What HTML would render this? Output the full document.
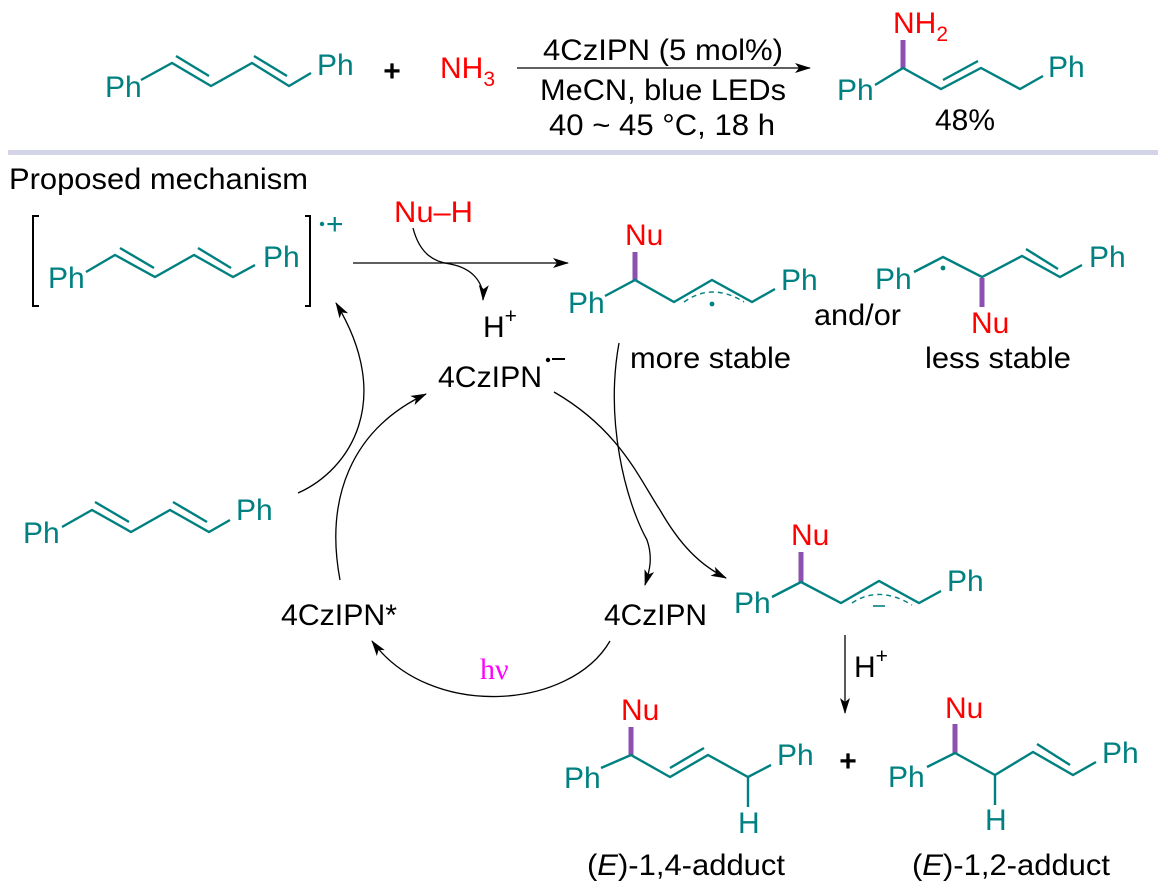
<!DOCTYPE html>
<html><head><meta charset="utf-8"><style>
html,body{margin:0;padding:0;background:#fff;}
svg{display:block;}
text{font-family:"Liberation Sans",Arial,sans-serif;font-size:30px;}
.t{fill:#008080;}
.r{fill:#ff0000;}
.k{fill:#000;}
.b{stroke:#008080;stroke-width:2.4;fill:none;stroke-linejoin:miter;}
.p{stroke:#8e50b0;stroke-width:5;}
.a{stroke:#000;stroke-width:1.3;fill:none;}
</style></head><body>
<svg width="1168" height="894" viewBox="0 0 1168 894" xmlns="http://www.w3.org/2000/svg">
<defs>
<marker id="ah" viewBox="0 0 16 10" refX="15" refY="5" markerWidth="16" markerHeight="10" markerUnits="userSpaceOnUse" orient="auto">
<path d="M0,0 L16,5 L0,10 L4,5 z" fill="#000"/>
</marker>
</defs>

<!-- Top reaction -->
<text class="t" x="105" y="97">Ph</text>
<polyline class="b" points="141,80 172,63 211,86 252,63 289,86 311,73"/>
<line class="b" x1="176" y1="56" x2="209" y2="76"/>
<line class="b" x1="254" y1="56" x2="287" y2="76"/>
<text class="t" x="317" y="75">Ph</text>
<text class="k" x="392" y="81" text-anchor="middle" font-size="34" font-weight="bold">+</text>
<text class="r" x="440" y="78">NH<tspan font-size="21" dy="8">3</tspan></text>
<line class="a" x1="517" y1="68" x2="810" y2="68" marker-end="url(#ah)"/>
<text class="k" x="543" y="60" textLength="240" lengthAdjust="spacingAndGlyphs">4CzIPN (5 mol%)</text>
<text class="k" x="540" y="100" textLength="246" lengthAdjust="spacingAndGlyphs">MeCN, blue LEDs</text>
<text class="k" x="549" y="135" textLength="226" lengthAdjust="spacingAndGlyphs">40 ~ 45 °C, 18 h</text>
<text class="r" x="893" y="33">NH<tspan font-size="21" dy="8">2</tspan></text>
<line class="p" x1="903" y1="40" x2="903" y2="68"/>
<text class="t" x="837" y="100">Ph</text>
<polyline class="b" points="875,85 903,68 941,89 981,68 1020,89 1043,76"/>
<line class="b" x1="943" y1="80" x2="978" y2="61"/>
<text class="t" x="1048" y="77">Ph</text>
<text class="k" x="935" y="130" textLength="60" lengthAdjust="spacingAndGlyphs">48%</text>

<rect x="8" y="150" width="1150" height="5" fill="#d4d4e8"/>

<text class="k" x="9" y="189" textLength="299" lengthAdjust="spacingAndGlyphs">Proposed mechanism</text>

<!-- radical cation -->
<polyline points="39,216 33,216 33,306 39,306" stroke="#000" stroke-width="2" fill="none"/>
<polyline points="305,216 310,216 310,306 305,306" stroke="#000" stroke-width="2" fill="none"/>
<circle cx="322" cy="224" r="2.2" fill="#008080"/>
<text class="t" x="326" y="234" font-size="26">+</text>
<text class="t" x="48" y="288">Ph</text>
<polyline class="b" points="86,272 115,255 155,277 194,255 233,277 255,265"/>
<line class="b" x1="120" y1="248" x2="154" y2="268"/>
<line class="b" x1="198" y1="248" x2="231" y2="268"/>
<text class="t" x="263" y="267">Ph</text>

<line class="a" x1="353" y1="263" x2="568" y2="263" marker-end="url(#ah)"/>
<text class="r" x="394" y="222" textLength="79" lengthAdjust="spacingAndGlyphs">Nu–H</text>
<path class="a" d="M413,228 C420,255 435,262 450,264 C472,268 484,282 483,300" marker-end="url(#ah)"/>
<text class="k" x="483" y="337">H<tspan font-size="21" dy="-14">+</tspan></text>
<text class="k" x="438" y="387" textLength="104" lengthAdjust="spacingAndGlyphs">4CzIPN</text>
<circle cx="548" cy="360" r="2.2" fill="#000"/>
<line x1="552" y1="359" x2="565" y2="359" stroke="#000" stroke-width="2"/>

<!-- upper radical (more stable) -->
<text class="r" x="625" y="245">Nu</text>
<line class="p" x1="635" y1="252" x2="635" y2="280"/>
<text class="t" x="568" y="313">Ph</text>
<polyline class="b" points="605,296 635,280 674,302 712,280 752,302 775,289"/>
<path d="M684,302 Q712,282 744,302" stroke="#008080" stroke-width="1.4" fill="none" stroke-dasharray="5,4"/>
<circle cx="712" cy="304" r="2.4" fill="#008080"/>
<text class="t" x="781" y="290">Ph</text>
<text class="k" x="814" y="325" textLength="87" lengthAdjust="spacingAndGlyphs">and/or</text>

<!-- less stable -->
<text class="t" x="875" y="289">Ph</text>
<polyline class="b" points="914,272 943,257 982,277 1022,256 1060,277 1082,265"/>
<line class="b" x1="1026" y1="249" x2="1058" y2="269"/>
<circle cx="943" cy="268" r="2.4" fill="#008080"/>
<line class="p" x1="982" y1="278" x2="982" y2="307"/>
<text class="r" x="971" y="333">Nu</text>
<text class="t" x="1089" y="267">Ph</text>
<text class="k" x="630" y="368" textLength="161" lengthAdjust="spacingAndGlyphs">more stable</text>
<text class="k" x="925" y="368" textLength="146" lengthAdjust="spacingAndGlyphs">less stable</text>

<!-- left diene -->
<text class="t" x="23" y="543">Ph</text>
<polyline class="b" points="62,527 92,510 131,532 170,510 209,532 230,520"/>
<line class="b" x1="95" y1="502" x2="129" y2="522"/>
<line class="b" x1="173" y1="502" x2="207" y2="522"/>
<text class="t" x="236" y="520">Ph</text>

<!-- cycle curves -->
<path class="a" d="M298,493 C350,470 395,400 336,303" marker-end="url(#ah)"/>
<path class="a" d="M340,580 C325,500 350,430 426,394" marker-end="url(#ah)"/>
<text class="k" x="281" y="625" textLength="116" lengthAdjust="spacingAndGlyphs">4CzIPN*</text>
<text class="k" x="604" y="625" textLength="103" lengthAdjust="spacingAndGlyphs">4CzIPN</text>
<path class="a" d="M610,641 C570,710 430,720 372,641" marker-end="url(#ah)"/>
<text x="480" y="679" font-size="34" fill="#ff00ff" style="font-family:'Liberation Serif',serif">hν</text>
<path class="a" d="M619,343 C605,420 625,500 647,540 C654,560 648,575 645,585" marker-end="url(#ah)"/>
<path class="a" d="M554,392 C620,430 640,480 660,510 C680,545 700,565 726,578" marker-end="url(#ah)"/>

<!-- lower radical anion -->
<text class="r" x="791" y="545">Nu</text>
<line class="p" x1="801" y1="552" x2="801" y2="582"/>
<text class="t" x="734" y="613">Ph</text>
<polyline class="b" points="772,597 801,582 841,603 879,581 919,603 941,591"/>
<path d="M852,603 Q879,585 912,605" stroke="#008080" stroke-width="1.4" fill="none" stroke-dasharray="5,4"/>
<line x1="873" y1="606" x2="885" y2="606" stroke="#008080" stroke-width="1.6"/>
<text class="t" x="947" y="591">Ph</text>

<line class="a" x1="845" y1="635" x2="845" y2="713" marker-end="url(#ah)"/>
<text class="k" x="854" y="677">H<tspan font-size="21" dy="-14">+</tspan></text>

<!-- product 1,4 -->
<text class="r" x="621" y="720">Nu</text>
<line class="p" x1="631" y1="727" x2="631" y2="755"/>
<text class="t" x="564" y="788">Ph</text>
<polyline class="b" points="601,768 631,755 670,777 708,755 748,777 771,765"/>
<line class="b" x1="670" y1="768" x2="704" y2="748"/>
<line class="b" x1="748" y1="777" x2="748" y2="807"/>
<text class="t" x="738" y="833">H</text>
<text class="t" x="777" y="765">Ph</text>
<text class="k" x="848" y="771" text-anchor="middle" font-size="34" font-weight="bold">+</text>

<!-- product 1,2 -->
<text class="r" x="945" y="718">Nu</text>
<line class="p" x1="955" y1="724" x2="955" y2="753"/>
<text class="t" x="888" y="787">Ph</text>
<polyline class="b" points="927,767 955,753 995,775 1033,752 1073,775 1096,762"/>
<line class="b" x1="1037" y1="744" x2="1070" y2="765"/>
<line class="b" x1="995" y1="775" x2="995" y2="805"/>
<text class="t" x="985" y="830">H</text>
<text class="t" x="1102" y="763">Ph</text>

<text class="k" x="587" y="875" textLength="198" lengthAdjust="spacingAndGlyphs">(<tspan font-style="italic">E</tspan>)-1,4-adduct</text>
<text class="k" x="912" y="875" textLength="198" lengthAdjust="spacingAndGlyphs">(<tspan font-style="italic">E</tspan>)-1,2-adduct</text>
</svg>
</body></html>
